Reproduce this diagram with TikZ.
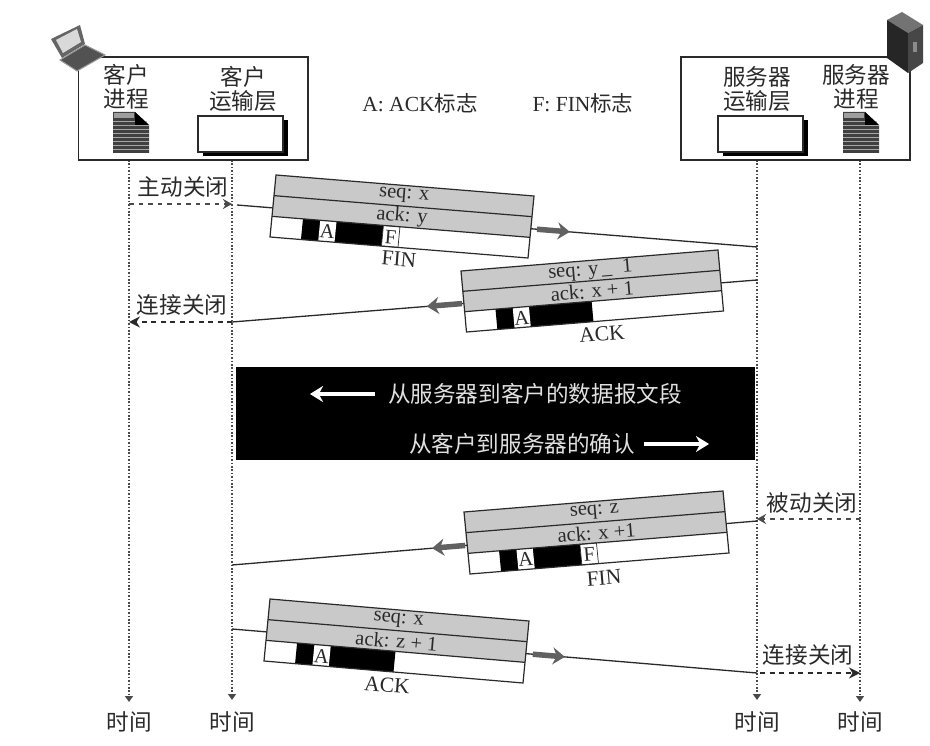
\documentclass[tikz,border=0pt]{standalone}
\usepackage{fontspec}
\setmainfont{Liberation Serif}
\newfontfamily\cjk{Noto Sans CJK SC}
\usetikzlibrary{arrows.meta,calc}
\definecolor{pktgray}{HTML}{C9C9C9}
\definecolor{inkc}{HTML}{2A2A2A}
\tikzset{
  lbl/.style={inner sep=0pt,text=inkc,align=center,font=\fontsize{21.5}{24}\selectfont},
  pktlbl/.style={inner sep=0pt,text=inkc,align=center,font=\fontsize{20.5}{22}\selectfont},
  zh/.style={inner sep=0pt,text=inkc,align=center,font=\cjk\fontsize{22.6}{24}\selectfont},
  frame/.style={draw=inkc,line width=1.4pt,fill=white},
  timeline/.style={draw=inkc!85,line width=1.6pt,dash pattern=on 1.7pt off 1.7pt,-{Triangle[length=6pt,width=8pt]}},
  wire/.style={draw=inkc,line width=1.3pt},
  closing/.style={draw=inkc,line width=1.7pt,dash pattern=on 5pt off 4.5pt,-{Stealth[length=11pt,width=11pt]}},
  closingthin/.style={draw=inkc!85,line width=1.5pt,dash pattern=on 4.5pt off 5pt,-{Stealth[length=9pt,width=10pt]}},
  flow/.style={draw=black!62,line width=5.5pt,-{Stealth[length=12pt,width=17pt]}},
  whitearrow/.style={draw=white,line width=3.6pt,-{Stealth[length=13pt,width=16pt]}},
  pktline/.style={draw=inkc,line width=1.2pt},
  flagbox/.style={fill=black},
  whitebox/.style={draw=inkc,line width=.7pt,fill=white},
}
% #1 name, #2 top-left, #3 u vector, #4 v vector, #5 angle, #6 seq, #7 ack, #8 flag drawing
\newcommand\pkt[8]{%
  \begin{scope}[shift={(#2)},x={(#3)},y={(#4)}]
    \fill[white] (0,0)--(1,0)--(1,1)--(0,1)--cycle;
    \fill[pktgray] (0,0)--(1,0)--(1,.667)--(0,.667)--cycle;
    #8
    \draw[pktline] (0,0)--(1,0)--(1,1)--(0,1)--cycle;
    \draw[pktline] (0,.333)--(1,.333) (0,.667)--(1,.667);
    \node[pktlbl,rotate=#5] (#1-seq) at (.5,.165) {#6};
    \node[pktlbl,rotate=#5] (#1-ack) at (.5,.5) {#7};
  \end{scope}}
\newcommand\flagA[2]{%
  \fill[flagbox] (.12,.667)--(#1,.667)--(#1,1)--(.12,1)--cycle;
  \fill[white] (.187,.667)--(.25,.667)--(.25,1)--(.187,1)--cycle;
  \node[pktlbl,rotate=#2] at (.2185,.84) {A};}
\newcommand\flagF[1]{%
  \draw[whitebox] (.432,.667)--(.496,.667)--(.496,1)--(.432,1)--cycle;
  \node[pktlbl,rotate=#1] at (.464,.84) {F};}
\newcommand\docicon[1]{%
  \begin{scope}[shift={(#1,0)}]
    \fill[black!75] (0,112)--(22,112)--(36,125)--(36,153)--(0,153)--cycle;
    \fill[black!38] (1,113)--(21,113)--(21,118)--(1,118)--cycle;
    \foreach \yy in {121,125,129,133,137,141,145,149}
      \draw[black!35,line width=.6pt] (0,\yy)--(36,\yy);
    \fill[white] (23,111.5)--(37,111.5)--(37,124.5)--cycle;
    \fill[black] (22,112)--(36,125)--(22,125)--cycle;
  \end{scope}}
\begin{document}
\begin{tikzpicture}[x=1pt,y=-1pt]
\useasboundingbox (0,0) rectangle (930,746);
\fill[white] (0,0) rectangle (930,746);

% timeline ends
\coordinate (tcs) at (129,160); \coordinate (tce) at (129,702);
\coordinate (tts) at (232,160); \coordinate (tte) at (232,700);
\coordinate (uts) at (757,160); \coordinate (ute) at (757,700);
\coordinate (ups) at (860,160); \coordinate (upe) at (860,702);
\draw[timeline] (tcs)--(tce);
\draw[timeline] (tts)--(tte);
\draw[timeline] (uts)--(ute);
\draw[timeline] (ups)--(upe);

% host boxes
\draw[frame] (78.5,57) rectangle (308,160);
\draw[frame] (681,57) rectangle (910,160);

% transport boxes
\fill[black] (202.5,120.5) rectangle (287.5,156);
\draw[draw=inkc,line width=1.3pt,fill=white] (198,116) rectangle (283,152);
\fill[black] (722.5,120.5) rectangle (807.5,156);
\draw[draw=inkc,line width=1.3pt,fill=white] (718,116) rectangle (803,152);
\docicon{113}
\docicon{843}

% laptop
\fill[black!60] (51,39)--(80,25)--(85,44)--(62,58)--cycle;
\fill[black!15] (56,40)--(77,29)--(81,42)--(63,53)--cycle;
\fill[black!68] (60,60)--(85,45)--(105,55)--(77,71)--cycle;
\draw[black!40,line width=1pt] (60,60)--(85,45)--(105,55)--(77,71)--cycle;
% server
\fill[black!55] (887,20)--(902,12)--(923,25)--(908,33)--cycle;
\fill[black!85] (887,20)--(908,33)--(908,73)--(887,58)--cycle;
\fill[black!72] (908,33)--(923,25)--(923,63)--(908,73)--cycle;
\fill[black!45] (913,42) rectangle (917,52);

% header labels
\node[zh] (c1) at (126,86.5) {客户\\进程};
\node[zh] (c2) at (243,89) {客户\\运输层};
\node[zh] (s1) at (757,89) {服务器\\运输层};
\node[zh] (s2) at (856,87) {服务器\\进程};
\node[lbl] (la) at (420,103) {A: ACK{\cjk 标志}};
\node[lbl] (lf) at (583,103) {F: FIN{\cjk 标志}};

% dashed closing arrows
\coordinate (a1s) at (129,204); \coordinate (a1e) at (232,204);
\coordinate (a2s) at (232,322); \coordinate (a2e) at (129,322);
\coordinate (a3s) at (860,519); \coordinate (a3e) at (757,519);
\coordinate (a4s) at (760,673); \coordinate (a4e) at (860,673);
\draw[closingthin] (a1s)--(a1e);
\draw[closing] (a2s)--(a2e);
\draw[closingthin] (a3s)--(a3e);
\draw[closing] (a4s)--(a4e);
\node[zh] (t1) at (183,187) {主动关闭};
\node[zh] (t2) at (182,305) {连接关闭};
\node[zh] (t3) at (812,503) {被动关闭};
\node[zh] (t4) at (808,655) {连接关闭};

% segments: lines
\coordinate (l1a) at (237,205); \coordinate (l1b) at (757,247);
\coordinate (l2a) at (757,280); \coordinate (l2b) at (232,322);
\coordinate (l3a) at (757,521); \coordinate (l3b) at (232,565);
\coordinate (l4a) at (232,629); \coordinate (l4b) at (757,673);
\draw[wire] (l1a)--(l1b);
\draw[wire] (l2a)--(l2b);
\draw[wire] (l3a)--(l3b);
\draw[wire] (l4a)--(l4b);
\draw[flow] ($(l1a)!.577!(l1b)$)--($(l1a)!.64!(l1b)$);
\draw[flow] ($(l2a)!.562!(l2b)$)--($(l2a)!.629!(l2b)$);
\draw[flow] ($(l3a)!.556!(l3b)$)--($(l3a)!.619!(l3b)$);
\draw[flow] ($(l4a)!.573!(l4b)$)--($(l4a)!.634!(l4b)$);

% packets
\pkt{p1}{276,175}{258pt,-21pt}{-6pt,-62pt}{-4.7}{seq: x}{ack: y}{\flagA{.432}{-4.7}\flagF{-4.7}}
\pkt{p2}{461,271}{257pt,21pt}{5.5pt,-61pt}{4.7}{seq: y\,\_\ \ 1}{ack: x + 1}{\flagA{.494}{4.7}}
\pkt{p3}{464,512}{259pt,21pt}{6pt,-62pt}{4.7}{seq: z}{ack: x +1}{\flagA{.432}{4.7}\flagF{4.7}}
\pkt{p4}{270,599}{259pt,-22pt}{-6pt,-62pt}{-4.8}{seq: x}{ack: z + 1}{\flagA{.5}{-4.8}}
\node[lbl,rotate=-4.7] (fin1) at (399,259) {FIN};
\node[lbl,rotate=4.7] (ack2) at (602,334) {ACK};
\node[lbl,rotate=4.7] (fin3) at (604,578) {FIN};
\node[lbl,rotate=-4.8] (ack4) at (387,685) {ACK};

% data band
\fill[black] (236,367.5) rectangle (755,459.5);
\coordinate (w1s) at (375,394); \coordinate (w1e) at (310,394);
\coordinate (w2s) at (644,444); \coordinate (w2e) at (709,444);
\draw[whitearrow] (w1s)--(w1e);
\draw[whitearrow] (w2s)--(w2e);
\node[zh,text=white!88!black] (b1) at (535,394) {从服务器到客户的数据报文段};
\node[zh,text=white!88!black] (b2) at (522,444) {从客户到服务器的确认};

% time labels
\node[zh] (tm1) at (129,722) {时间};
\node[zh] (tm2) at (232,722) {时间};
\node[zh] (tm3) at (757,722) {时间};
\node[zh] (tm4) at (860,722) {时间};
\end{tikzpicture}
\end{document}
